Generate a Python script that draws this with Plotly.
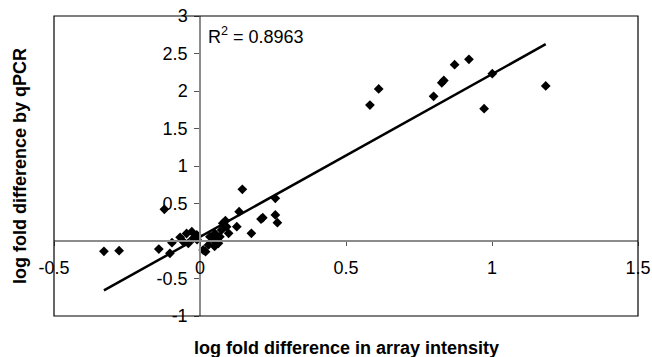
import plotly.graph_objects as go
import numpy as np

# Data
array_log_fold = [-0.329, -0.277, -0.122, -0.141, -0.103, -0.096, -0.068, -0.057,
                  -0.046, -0.028, -0.023, -0.040, -0.011, -0.010, 0.011, 0.019,
                  0.029, 0.034, 0.046, 0.050, 0.051, 0.060, 0.063, 0.068, 0.074,
                  0.078, 0.087, 0.091, 0.098, 0.126, 0.134, 0.145, 0.176, 0.209,
                  0.215, 0.258, 0.258, 0.265, 0.582, 0.612, 0.800, 0.828, 0.835,
                  0.872, 0.921, 1.001, 0.973, 1.184]
qpcr_log_fold = [-0.138, -0.129, 0.422, -0.107, -0.164, -0.022, 0.049, -0.010,
                 0.100, 0.124, 0.036, -0.030, 0.080, 0.020, -0.120, -0.142,
                 -0.053, 0.057, 0.013, -0.070, 0.100, 0.030, -0.030, 0.057, 0.147,
                 0.236, 0.271, 0.190, 0.102, 0.191, 0.391, 0.689, 0.102, 0.293,
                 0.310, 0.569, 0.347, 0.244, 1.813, 2.027, 1.929, 2.110, 2.140,
                 2.351, 2.422, 2.231, 1.764, 2.067]
trend_slope = 2.17
trend_intercept = 0.055
r_squared = 0.8963

x_ticks = [-0.5, 0, 0.5, 1, 1.5]
x_tick_labels = ["-0.5", "0", "0.5", "1", "1.5"]
y_ticks = [-1, -0.5, 0.5, 1, 1.5, 2, 2.5, 3]
y_tick_labels = ["-1", "-0.5", "0.5", "1", "1.5", "2", "2.5", "3"]

x_range = [-0.5, 1.5]
y_range = [-1, 3]

FONT = "Liberation Sans, Arial, sans-serif"

fig = go.Figure()

fig.add_trace(go.Scatter(
    x=array_log_fold, y=qpcr_log_fold, mode="markers",
    marker=dict(symbol="diamond", size=7.5, color="black", line=dict(width=0)),
    showlegend=False, cliponaxis=False,
))

xs = np.array([min(array_log_fold), max(array_log_fold)])
fig.add_trace(go.Scatter(
    x=xs, y=trend_slope * xs + trend_intercept, mode="lines",
    line=dict(color="black", width=2.5), showlegend=False,
))

fig.update_layout(
    width=652, height=357,
    margin=dict(l=54, r=14, t=16, b=41, autoexpand=False),
    paper_bgcolor="white", plot_bgcolor="white",
    font=dict(family=FONT, color="black"),
    xaxis=dict(
        range=x_range, tickvals=x_ticks, ticktext=x_tick_labels,
        anchor="free", position=(0 - y_range[0]) / (y_range[1] - y_range[0]),
        automargin=False,
        showgrid=False, zeroline=False,
        showline=True, linecolor="#8c8c8c", linewidth=1.5,
        ticks="outside", ticklen=4, tickcolor="#555", tickwidth=1,
        tickfont=dict(size=18, family=FONT, color="black"),
        ticklabelstandoff=7,
    ),
    yaxis=dict(
        range=y_range, tickvals=y_ticks, ticktext=y_tick_labels,
        anchor="free", position=(0 - x_range[0]) / (x_range[1] - x_range[0]),
        automargin=False,
        showgrid=False, zeroline=False,
        showline=True, linecolor="#8c8c8c", linewidth=1.5,
        ticks="outside", ticklen=5, tickcolor="#555", tickwidth=1,
        tickfont=dict(size=18, family=FONT, color="black"),
        ticklabelstandoff=3,
    ),
    shapes=[dict(type="rect", xref="paper", yref="paper", x0=0, x1=1, y0=0, y1=1,
                 line=dict(color="black", width=1.2), layer="above")],
    annotations=[
        dict(text=f"R<sup>2</sup> = {r_squared}", xref="paper", yref="paper",
             x=(0.02 - x_range[0]) / (x_range[1] - x_range[0]), y=1, yshift=-6,
             xanchor="left", yanchor="top", showarrow=False,
             font=dict(size=18, family=FONT, color="black")),
        dict(text="<b>log fold difference in array intensity</b>", xref="paper", yref="paper",
             x=0.5, y=0, yshift=-32, xanchor="center", yanchor="middle", showarrow=False,
             font=dict(size=18, family=FONT, color="black")),
        dict(text="<b>log fold difference by qPCR</b>", xref="paper", yref="paper",
             x=0, y=0.5, xshift=-34, xanchor="center", yanchor="middle", textangle=-90,
             showarrow=False, font=dict(size=18, family=FONT, color="black")),
    ],
)

fig.write_html("out.html", config={"displayModeBar": False},
               post_script="document.body.style.margin='0';document.body.style.overflow='hidden';")
